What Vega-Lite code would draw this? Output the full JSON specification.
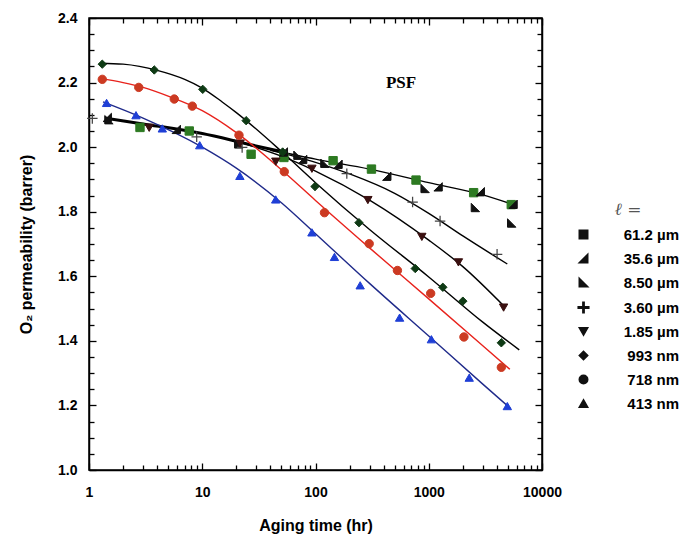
{
  "$schema": "https://vega.github.io/schema/vega-lite/v6.json",
  "width": 453,
  "height": 452,
  "autosize": {"type": "none"},
  "padding": {"left": 89, "top": 18, "right": 139, "bottom": 67},
  "background": "white",
  "config": {"view": {"stroke": "black", "strokeWidth": 1.5}, "font": "Liberation Sans"},
  "datasets": {
    "points": [
      {"s": "61.2 µm", "t": 2.82, "p": 2.061}, {"s": "61.2 µm", "t": 7.68, "p": 2.05}, {"s": "61.2 µm", "t": 27, "p": 1.978}, {"s": "61.2 µm", "t": 52.6, "p": 1.968}, {"s": "61.2 µm", "t": 143, "p": 1.958}, {"s": "61.2 µm", "t": 312, "p": 1.932}, {"s": "61.2 µm", "t": 772, "p": 1.898}, {"s": "61.2 µm", "t": 2491, "p": 1.859}, {"s": "61.2 µm", "t": 5355, "p": 1.822},
      {"s": "35.6 µm", "t": 1.45, "p": 2.092}, {"s": "35.6 µm", "t": 5.9, "p": 2.055}, {"s": "35.6 µm", "t": 52, "p": 1.985}, {"s": "35.6 µm", "t": 77, "p": 1.962}, {"s": "35.6 µm", "t": 158, "p": 1.947}, {"s": "35.6 µm", "t": 426, "p": 1.91}, {"s": "35.6 µm", "t": 1209, "p": 1.877}, {"s": "35.6 µm", "t": 2850, "p": 1.862}, {"s": "35.6 µm", "t": 5550, "p": 1.823},
      {"s": "8.50 µm", "t": 1.5, "p": 2.085}, {"s": "8.50 µm", "t": 21, "p": 2.01}, {"s": "8.50 µm", "t": 70, "p": 1.975}, {"s": "8.50 µm", "t": 121, "p": 1.95}, {"s": "8.50 µm", "t": 929, "p": 1.872}, {"s": "8.50 µm", "t": 2582, "p": 1.813}, {"s": "8.50 µm", "t": 5400, "p": 1.765},
      {"s": "3.60 µm", "t": 1.07, "p": 2.089}, {"s": "3.60 µm", "t": 8.93, "p": 2.032}, {"s": "3.60 µm", "t": 22.5, "p": 1.999}, {"s": "3.60 µm", "t": 189, "p": 1.918}, {"s": "3.60 µm", "t": 720, "p": 1.83}, {"s": "3.60 µm", "t": 1259, "p": 1.771}, {"s": "3.60 µm", "t": 4012, "p": 1.668},
      {"s": "1.85 µm", "t": 3.4, "p": 2.06}, {"s": "1.85 µm", "t": 21.6, "p": 2.011}, {"s": "1.85 µm", "t": 44.6, "p": 1.955}, {"s": "1.85 µm", "t": 93, "p": 1.933}, {"s": "1.85 µm", "t": 290, "p": 1.836}, {"s": "1.85 µm", "t": 869, "p": 1.722}, {"s": "1.85 µm", "t": 1829, "p": 1.643}, {"s": "1.85 µm", "t": 4580, "p": 1.503},
      {"s": "993 nm", "t": 1.31, "p": 2.257}, {"s": "993 nm", "t": 3.77, "p": 2.239}, {"s": "993 nm", "t": 10.1, "p": 2.179}, {"s": "993 nm", "t": 24.4, "p": 2.082}, {"s": "993 nm", "t": 51.3, "p": 1.985}, {"s": "993 nm", "t": 99, "p": 1.878}, {"s": "993 nm", "t": 242, "p": 1.766}, {"s": "993 nm", "t": 760, "p": 1.624}, {"s": "993 nm", "t": 1331, "p": 1.566}, {"s": "993 nm", "t": 2000, "p": 1.523}, {"s": "993 nm", "t": 4375, "p": 1.394},
      {"s": "718 nm", "t": 1.31, "p": 2.21}, {"s": "718 nm", "t": 2.75, "p": 2.185}, {"s": "718 nm", "t": 5.66, "p": 2.149}, {"s": "718 nm", "t": 8.17, "p": 2.127}, {"s": "718 nm", "t": 21.1, "p": 2.037}, {"s": "718 nm", "t": 53, "p": 1.924}, {"s": "718 nm", "t": 120, "p": 1.797}, {"s": "718 nm", "t": 298, "p": 1.701}, {"s": "718 nm", "t": 529, "p": 1.618}, {"s": "718 nm", "t": 1040, "p": 1.547}, {"s": "718 nm", "t": 2045, "p": 1.412}, {"s": "718 nm", "t": 4375, "p": 1.318},
      {"s": "413 nm", "t": 1.43, "p": 2.137}, {"s": "413 nm", "t": 2.6, "p": 2.099}, {"s": "413 nm", "t": 4.44, "p": 2.058}, {"s": "413 nm", "t": 9.5, "p": 2.006}, {"s": "413 nm", "t": 21.5, "p": 1.911}, {"s": "413 nm", "t": 44.5, "p": 1.838}, {"s": "413 nm", "t": 93, "p": 1.736}, {"s": "413 nm", "t": 147, "p": 1.66}, {"s": "413 nm", "t": 248, "p": 1.572}, {"s": "413 nm", "t": 553, "p": 1.472}, {"s": "413 nm", "t": 1055, "p": 1.405}, {"s": "413 nm", "t": 2277, "p": 1.286}, {"s": "413 nm", "t": 4940, "p": 1.198}
    ],
    "thick": [
      {"t": 1.39, "p": 2.09}, {"t": 3, "p": 2.072}, {"t": 10, "p": 2.042}, {"t": 25, "p": 2.01}, {"t": 52, "p": 1.985}
    ],
    "curves": [
      {"c": "top", "t": 40, "p": 1.992}, {"c": "top", "t": 100, "p": 1.963}, {"c": "top", "t": 300, "p": 1.932}, {"c": "top", "t": 1000, "p": 1.89}, {"c": "top", "t": 3000, "p": 1.852}, {"c": "top", "t": 5800, "p": 1.82},
      {"c": "plus", "t": 40, "p": 1.99}, {"c": "plus", "t": 100, "p": 1.953}, {"c": "plus", "t": 200, "p": 1.917}, {"c": "plus", "t": 500, "p": 1.857}, {"c": "plus", "t": 1000, "p": 1.795}, {"c": "plus", "t": 2000, "p": 1.725}, {"c": "plus", "t": 4940, "p": 1.638},
      {"c": "down", "t": 25, "p": 2.008}, {"c": "down", "t": 50, "p": 1.972}, {"c": "down", "t": 100, "p": 1.926}, {"c": "down", "t": 300, "p": 1.836}, {"c": "down", "t": 1000, "p": 1.712}, {"c": "down", "t": 2000, "p": 1.63}, {"c": "down", "t": 4700, "p": 1.505},
      {"c": "diamond", "t": 1.25, "p": 2.26}, {"c": "diamond", "t": 2, "p": 2.257}, {"c": "diamond", "t": 4, "p": 2.238}, {"c": "diamond", "t": 7, "p": 2.21}, {"c": "diamond", "t": 10, "p": 2.183}, {"c": "diamond", "t": 15, "p": 2.14}, {"c": "diamond", "t": 20, "p": 2.107}, {"c": "diamond", "t": 50, "p": 1.987}, {"c": "diamond", "t": 100, "p": 1.89}, {"c": "diamond", "t": 300, "p": 1.745}, {"c": "diamond", "t": 1000, "p": 1.598}, {"c": "diamond", "t": 3000, "p": 1.458}, {"c": "diamond", "t": 6300, "p": 1.372},
      {"c": "red", "t": 1.25, "p": 2.213}, {"c": "red", "t": 2, "p": 2.2}, {"c": "red", "t": 3, "p": 2.185}, {"c": "red", "t": 5, "p": 2.158}, {"c": "red", "t": 10, "p": 2.113}, {"c": "red", "t": 20, "p": 2.045}, {"c": "red", "t": 50, "p": 1.93}, {"c": "red", "t": 100, "p": 1.835}, {"c": "red", "t": 300, "p": 1.688}, {"c": "red", "t": 1000, "p": 1.53}, {"c": "red", "t": 3000, "p": 1.385}, {"c": "red", "t": 5200, "p": 1.312},
      {"c": "blue", "t": 1.33, "p": 2.14}, {"c": "blue", "t": 3, "p": 2.09}, {"c": "blue", "t": 10, "p": 2.0}, {"c": "blue", "t": 20, "p": 1.935}, {"c": "blue", "t": 50, "p": 1.828}, {"c": "blue", "t": 100, "p": 1.732}, {"c": "blue", "t": 300, "p": 1.578}, {"c": "blue", "t": 1000, "p": 1.415}, {"c": "blue", "t": 3000, "p": 1.266}, {"c": "blue", "t": 5300, "p": 1.19}
    ],
    "labels": [{"t": 569, "p": 2.2, "txt": "PSF"}]
  },
  "resolve": {"axis": {"x": "independent", "y": "independent"}},
  "layer": [
    {
      "data": {"name": "thick"},
      "mark": {"type": "line", "interpolate": "monotone", "color": "black", "strokeWidth": 3, "clip": true},
      "encoding": {
        "x": {"field": "t", "type": "quantitative", "scale": {"type": "log", "domain": [1, 10000]},
          "axis": {"orient": "bottom", "values": [1,2,3,4,5,6,7,8,9,10,20,30,40,50,60,70,80,90,100,200,300,400,500,600,700,800,900,1000,2000,3000,4000,5000,6000,7000,8000,9000,10000],
            "format": "d", "labelExpr": "indexof([1,10,100,1000,10000], datum.value) >= 0 ? datum.label : ''",
            "tickSize": {"condition": {"test": "indexof([1,10,100,1000,10000], datum.value) >= 0", "value": -7}, "value": -5},
            "tickColor": "black", "tickWidth": 1.3, "domainColor": "black", "domainWidth": 1.5, "grid": false,
            "labelFont": "Liberation Sans", "labelFontWeight": "bold", "labelFontSize": 14, "labelColor": "black", "labelPadding": 22, "labelFlush": false, "labelOverlap": false,
            "title": "Aging time (hr)", "titleFont": "Liberation Sans", "titleFontSize": 16, "titleFontWeight": "bold", "titleColor": "black", "titlePadding": 16}},
        "y": {"field": "p", "type": "quantitative", "scale": {"domain": [1.0, 2.4], "zero": false, "nice": false},
          "axis": {"orient": "left", "values": [1.0,1.05,1.1,1.15,1.2,1.25,1.3,1.35,1.4,1.45,1.5,1.55,1.6,1.65,1.7,1.75,1.8,1.85,1.9,1.95,2.0,2.05,2.1,2.15,2.2,2.25,2.3,2.35,2.4],
            "format": ".1f", "labelExpr": "abs(datum.value*5 - round(datum.value*5)) < 0.001 ? datum.label : ''",
            "tickSize": {"condition": {"test": "abs(datum.value*5 - round(datum.value*5)) < 0.001", "value": -7}, "value": -5},
            "tickColor": "black", "tickWidth": 1.3, "domainColor": "black", "domainWidth": 1.5, "grid": false,
            "labelFont": "Liberation Sans", "labelFontWeight": "bold", "labelFontSize": 14, "labelColor": "black", "labelPadding": 19, "labelFlush": false, "labelOverlap": false,
            "title": "O₂ permeability (barrer)", "titleFont": "Liberation Sans", "titleFontSize": 16, "titleFontWeight": "bold", "titleColor": "black", "titlePadding": 23}}
      }
    },
    {
      "data": {"name": "curves"},
      "mark": {"type": "line", "interpolate": "monotone", "strokeWidth": 1.4, "clip": true},
      "encoding": {
        "x": {"field": "t", "type": "quantitative",
          "axis": {"orient": "top", "values": [1,2,3,4,5,6,7,8,9,10,20,30,40,50,60,70,80,90,100,200,300,400,500,600,700,800,900,1000,2000,3000,4000,5000,6000,7000,8000,9000,10000],
            "labels": false, "title": null, "grid": false,
            "tickSize": {"condition": {"test": "indexof([1,10,100,1000,10000], datum.value) >= 0", "value": -7}, "value": -5},
            "tickColor": "black", "tickWidth": 1.3, "domainColor": "black", "domainWidth": 1.5}},
        "y": {"field": "p", "type": "quantitative",
          "axis": {"orient": "right", "values": [1.0,1.05,1.1,1.15,1.2,1.25,1.3,1.35,1.4,1.45,1.5,1.55,1.6,1.65,1.7,1.75,1.8,1.85,1.9,1.95,2.0,2.05,2.1,2.15,2.2,2.25,2.3,2.35,2.4],
            "labels": false, "title": null, "grid": false,
            "tickSize": {"condition": {"test": "abs(datum.value*5 - round(datum.value*5)) < 0.001", "value": -7}, "value": -5},
            "tickColor": "black", "tickWidth": 1.3, "domainColor": "black", "domainWidth": 1.5}},
        "detail": {"field": "c", "type": "nominal"},
        "color": {"field": "c", "type": "nominal", "legend": null,
          "scale": {"domain": ["top", "plus", "down", "diamond", "red", "blue"], "range": ["black", "black", "black", "black", "#e8221c", "#1f2a8a"]}}
      }
    },
    {
      "data": {"name": "points"},
      "mark": {"type": "point", "filled": true, "size": 70, "strokeWidth": 1, "opacity": 1},
      "encoding": {
        "x": {"field": "t", "type": "quantitative", "axis": null},
        "y": {"field": "p", "type": "quantitative", "axis": null},
        "shape": {"field": "s", "type": "nominal",
          "scale": {"domain": ["61.2 µm", "35.6 µm", "8.50 µm", "3.60 µm", "1.85 µm", "993 nm", "718 nm", "413 nm"],
            "range": ["square", "M1,-1L1,1L-1,1Z", "M-1,-1L-1,1L1,1Z", "M-1.25,-0.15L-0.15,-0.15L-0.15,-1.25L0.15,-1.25L0.15,-0.15L1.25,-0.15L1.25,0.15L0.15,0.15L0.15,1.25L-0.15,1.25L-0.15,0.15L-1.25,0.15Z", "triangle-down", "diamond", "circle", "triangle-up"]},
          "legend": {"orient": "none", "legendX": 487, "legendY": 184, "title": "ℓ =", "titleFont": "DejaVu Serif", "titleFontStyle": "italic", "titleFontWeight": "normal", "titleFontSize": 17, "titleColor": "#555555", "titlePadding": 8, "titleAnchor": "middle",
            "labelFont": "Liberation Sans", "labelFontWeight": "bold", "labelFontSize": 15, "labelColor": "black", "labelAlign": "right", "labelOffset": 88, "labelLimit": 200,
            "symbolFillColor": "black", "symbolSize": 72, "symbolOpacity": 1, "rowPadding": 8}},
        "fill": {"condition": [
            {"test": "datum.s === '61.2 µm'", "value": "#2d7a22"},
            {"test": "datum.s === '3.60 µm'", "value": "#444444"},
            {"test": "datum.s === '1.85 µm'", "value": "#3a1010"},
            {"test": "datum.s === '993 nm'", "value": "#0e3a14"},
            {"test": "datum.s === '718 nm'", "value": "#cc3a22"},
            {"test": "datum.s === '413 nm'", "value": "#1f3fd6"}], "value": "#111111"},
        "stroke": {"condition": [
            {"test": "datum.s === '61.2 µm'", "value": "#2d7a22"},
            {"test": "datum.s === '3.60 µm'", "value": "transparent"},
            {"test": "datum.s === '1.85 µm'", "value": "#3a1010"},
            {"test": "datum.s === '993 nm'", "value": "#0e3a14"},
            {"test": "datum.s === '718 nm'", "value": "#cc3a22"},
            {"test": "datum.s === '413 nm'", "value": "#1f3fd6"}], "value": "#111111"}
      }
    },
    {
      "data": {"name": "labels"},
      "mark": {"type": "text", "font": "Liberation Serif", "fontWeight": "bold", "fontSize": 17, "color": "black", "baseline": "middle", "align": "center"},
      "encoding": {
        "x": {"field": "t", "type": "quantitative", "axis": null},
        "y": {"field": "p", "type": "quantitative", "axis": null},
        "text": {"field": "txt", "type": "nominal"}
      }
    }
  ]
}
